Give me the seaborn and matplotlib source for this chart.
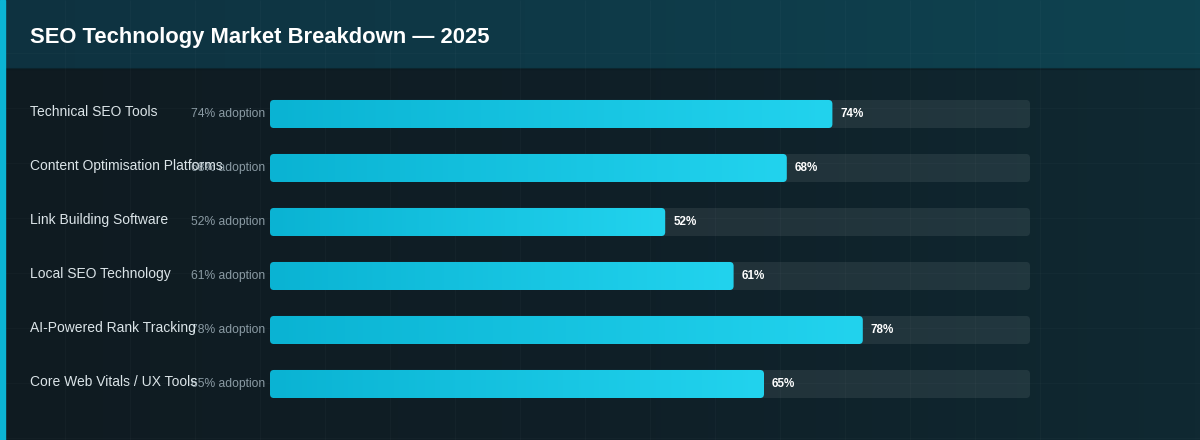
import numpy as np
import pandas as pd
import matplotlib
matplotlib.use("Agg")
import matplotlib.pyplot as plt
import matplotlib.transforms as mtransforms
from matplotlib.patches import FancyBboxPatch, Rectangle
from matplotlib.colors import LinearSegmentedColormap
import seaborn as sns

# ---- data ----
categories = [
    "Technical SEO Tools",
    "Content Optimisation Platforms",
    "Link Building Software",
    "Local SEO Technology",
    "AI-Powered Rank Tracking",
    "Core Web Vitals / UX Tools",
]
adoption = [74, 68, 52, 61, 78, 65]
title = "SEO Technology Market Breakdown \u2014 2025"

df = pd.DataFrame({"category": categories, "adoption": adoption})

sns.set_theme(style="white")
plt.rcParams["font.family"] = ["Liberation Sans", "DejaVu Sans"]

W, H = 1200, 440
HEADER = 69
fig = plt.figure(figsize=(12, 4.4), dpi=100)
fig.patch.set_facecolor("#0f1d24")

# ---- background layer (pixel coordinates) ----
bg = fig.add_axes([0, 0, 1, 1])
bg.set_xlim(0, W)
bg.set_ylim(H, 0)
bg.axis("off")

ramp = np.linspace(0, 1, 256).reshape(1, -1)
body_cmap = LinearSegmentedColormap.from_list("body", ["#0f1b21", "#0f1f27", "#102932"])
head_cmap = LinearSegmentedColormap.from_list("head", ["#0f3240", "#0e3a48", "#0e4350"])
bg.imshow(ramp, extent=[0, W, H, HEADER], cmap=body_cmap, aspect="auto", zorder=0)
bg.imshow(ramp, extent=[0, W, HEADER, 0], cmap=head_cmap, aspect="auto", zorder=0)
bg.hlines(HEADER, 0, W, color="#0b1a20", lw=1.5, alpha=0.6, zorder=1)

# faint grid
for gx in np.arange(1040, 0, -65):
    bg.vlines(gx, 0, H, color="white", alpha=0.022, lw=1, zorder=1)
for gy in np.arange(108, H, 55):
    bg.hlines(gy, 0, W, color="white", alpha=0.02, lw=1, zorder=1)
bg.hlines(53, 0, W, color="white", alpha=0.02, lw=1, zorder=1)

# accent strip
bg.add_patch(Rectangle((0, 0), 5, H, color="#0bb4d4", zorder=2))
bg.set_xlim(0, W)
bg.set_ylim(H, 0)

bg.text(30, 37, title, color="white", fontsize=15.8, fontweight="bold",
        ha="left", va="center", zorder=3)

# ---- bars ----
ax = fig.add_axes([270 / W, 1 - 411 / H, 760 / W, 324 / H])
ax.patch.set_alpha(0)
sns.barplot(data=df, y="category", x="adoption", orient="h", width=0.52,
            color="#22d3ee", ax=ax)
ax.set_xlim(0, 100)
ax.set_ylim(len(categories) - 0.5, -0.5)

px_x = 760 / 100
px_y = 324 / len(categories)
r = 4 / px_x
m_aspect = (4 / px_y) / r
bar_cmap = LinearSegmentedColormap.from_list("bar", ["#0ab3d3", "#22d3ee"])

for p in list(ax.patches):
    x0, y0, w, h = p.get_x(), p.get_y(), p.get_width(), p.get_height()
    p.remove()
    track = FancyBboxPatch((0, y0), 100, h, boxstyle=f"round,pad=0,rounding_size={r}",
                           mutation_aspect=m_aspect, facecolor="white", alpha=0.08,
                           edgecolor="none", zorder=1)
    ax.add_patch(track)
    bar = FancyBboxPatch((x0, y0), w, h, boxstyle=f"round,pad=0,rounding_size={r}",
                         mutation_aspect=m_aspect, facecolor="none",
                         edgecolor="none", zorder=2)
    ax.add_patch(bar)
    im = ax.imshow(ramp, extent=[x0, x0 + w, y0 + h, y0], cmap=bar_cmap,
                   aspect="auto", zorder=3)
    im.set_clip_path(bar)

ax.set_xlim(0, 100)
ax.set_ylim(len(categories) - 0.5, -0.5)
ax.axis("off")

# ---- labels ----
lab_tr = mtransforms.blended_transform_factory(bg.transData, ax.transData)
val_tr = mtransforms.offset_copy(ax.transData, fig=fig, x=8, y=0, units="dots")
for i, (cat, v) in enumerate(zip(categories, adoption)):
    ax.text(30, i - 0.03, cat, transform=lab_tr, color="#dbe4e8", fontsize=10,
            ha="left", va="center", zorder=5, clip_on=False)
    ax.text(265, i, f"{v}% adoption", transform=lab_tr, color="#8a9aa3",
            fontsize=8.7, ha="right", va="center", zorder=4, clip_on=False)
    ax.text(v, i, f"{v}%", transform=val_tr, color="white", fontsize=8.4,
            fontweight="bold", ha="left", va="center", zorder=5, clip_on=False)

fig.savefig("out.png", dpi=100, facecolor=fig.get_facecolor())
